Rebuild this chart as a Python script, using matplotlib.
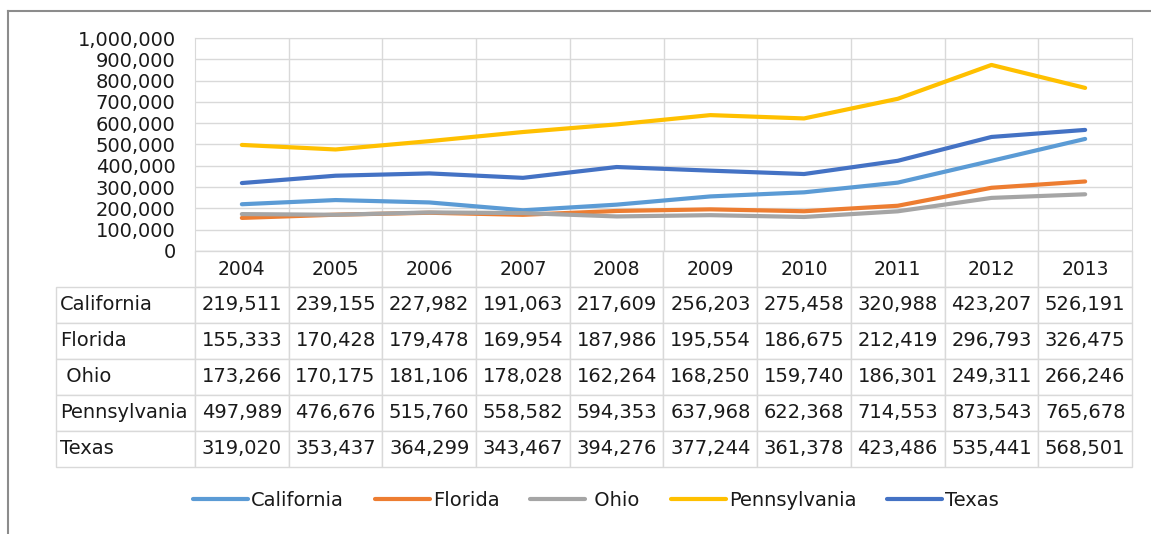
import matplotlib
matplotlib.use('Agg')
import matplotlib.pyplot as plt
from matplotlib.lines import Line2D
from matplotlib.ticker import FuncFormatter, MultipleLocator

years = [2004, 2005, 2006, 2007, 2008, 2009, 2010, 2011, 2012, 2013]
states = ['California', 'Florida', ' Ohio', 'Pennsylvania', 'Texas']

california = [219511, 239155, 227982, 191063, 217609, 256203, 275458, 320988, 423207, 526191]
florida = [155333, 170428, 179478, 169954, 187986, 195554, 186675, 212419, 296793, 326475]
ohio = [173266, 170175, 181106, 178028, 162264, 168250, 159740, 186301, 249311, 266246]
pennsylvania = [497989, 476676, 515760, 558582, 594353, 637968, 622368, 714553, 873543, 765678]
texas = [319020, 353437, 364299, 343467, 394276, 377244, 361378, 423486, 535441, 568501]

series = [california, florida, ohio, pennsylvania, texas]
colors = ['#5B9BD5', '#ED7D31', '#A5A5A5', '#FFC000', '#4472C4']

W, H = 1151, 534
grid_col = '#d9d9d9'
text_col = '#1a1a1a'


def box(l, t, r, b):
    # pixel box -> figure fraction [left, bottom, width, height]
    return [l / W, 1 - b / H, (r - l) / W, (b - t) / H]


fig = plt.figure(figsize=(W / 100, H / 100), dpi=100)

# line chart
ax = fig.add_axes(box(195, 38, 1132, 251))
xs = list(range(len(years)))
for name, vals, c in zip(states, series, colors):
    ax.plot(xs, vals, color=c, lw=3, solid_capstyle='round',
            solid_joinstyle='round', label=name)

ax.set_xlim(-0.5, len(years) - 0.5)
ax.set_ylim(0, 1000000)
ax.yaxis.set_major_locator(MultipleLocator(100000))
ax.yaxis.set_major_formatter(FuncFormatter(lambda v, p: f'{int(v):,}'))
ax.set_xticks([k + 0.5 for k in range(len(years) - 1)])
ax.set_xticklabels([])
ax.grid(True, color=grid_col, lw=1)
ax.set_axisbelow(True)
for s in ax.spines.values():
    s.set_color(grid_col)
ax.tick_params(length=0, labelsize=14, pad=14, labelcolor=text_col)

# data table under the chart
tax = fig.add_axes(box(56, 251, 1132, 467))
tax.axis('off')
cell_text = [[''] + [str(y) for y in years]]
for name, vals in zip(states, series):
    cell_text.append([name] + [f'{v:,}' for v in vals])

tbl = tax.table(cellText=cell_text, cellLoc='center', bbox=[0, 0, 1, 1],
                colWidths=[139] + [93.7] * len(years))
tbl.auto_set_font_size(False)
for (r, c), cell in tbl.get_celld().items():
    cell.set_edgecolor(grid_col)
    cell.set_linewidth(1)
    txt = cell.get_text()
    txt.set_color(text_col)
    if c == 0:
        cell.PAD = 0.03
        txt.set_ha('left')
        txt.set_fontsize(14)
    elif r == 0:
        txt.set_fontsize(13.5)
    else:
        txt.set_fontsize(14)
    if r == 0 and c == 0:
        cell.visible_edges = ''

# legend
fig.legend(loc='center', bbox_to_anchor=(596 / W, 1 - 500 / H), ncol=5,
           frameon=False, fontsize=14, handlelength=2.83, handletextpad=0.15,
           columnspacing=1.6, labelcolor=text_col)

# outer chart frame (only left and top visible)
fig.add_artist(Line2D([8 / W, 8 / W], [0, 1 - 11 / H], color='#8c8c8c', lw=1.5,
                      transform=fig.transFigure))
fig.add_artist(Line2D([8 / W, 1], [1 - 11 / H, 1 - 11 / H], color='#8c8c8c', lw=1.5,
                      transform=fig.transFigure))

fig.savefig('out.png', dpi=100)
